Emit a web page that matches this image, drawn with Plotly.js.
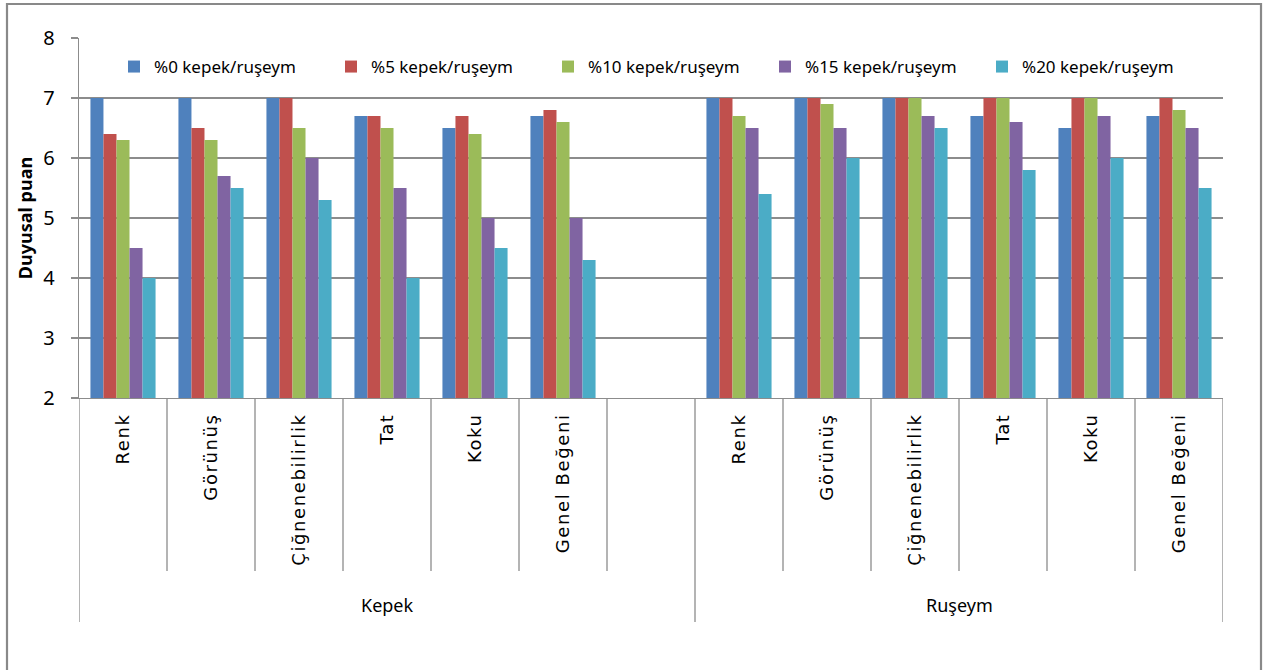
<!DOCTYPE html>
<html>
<head>
<meta charset="utf-8">
<script src="https://cdn.plot.ly/plotly-3.0.1.min.js"></script>
<style>
html,body{margin:0;padding:0;background:#fff;}
#chart{width:1270px;height:670px;}
#chart .xtick text{letter-spacing:1.6px;}
</style>
</head>
<body>
<div id="chart"></div>
<script>
// ---- data ----
const groups = ["Kepek", "Ruşeym"];
const attributes = ["Renk", "Görünüş", "Çiğnenebilirlik", "Tat", "Koku", "Genel Beğeni"];
const seriesNames = ["%0 kepek/ruşeym", "%5 kepek/ruşeym", "%10 kepek/ruşeym", "%15 kepek/ruşeym", "%20 kepek/ruşeym"];
const kepek0  = [7.0, 7.0, 7.0, 6.7, 6.5, 6.7];
const kepek5  = [6.4, 6.5, 7.0, 6.7, 6.7, 6.8];
const kepek10 = [6.3, 6.3, 6.5, 6.5, 6.4, 6.6];
const kepek15 = [4.5, 5.7, 6.0, 5.5, 5.0, 5.0];
const kepek20 = [4.0, 5.5, 5.3, 4.0, 4.5, 4.3];
const ruseym0  = [7.0, 7.0, 7.0, 6.7, 6.5, 6.7];
const ruseym5  = [7.0, 7.0, 7.0, 7.0, 7.0, 7.0];
const ruseym10 = [6.7, 6.9, 7.0, 7.0, 7.0, 6.8];
const ruseym15 = [6.5, 6.5, 6.7, 6.6, 6.7, 6.5];
const ruseym20 = [5.4, 6.0, 6.5, 5.8, 6.0, 5.5];
const yTickVals = [2, 3, 4, 5, 6, 7, 8];
const yAxisTitle = "Duyusal puan";

// ---- styles ----
const colors = ["#4F81BD", "#C0504D", "#9BBB59", "#8064A2", "#4BACC6"];
const W = 1270, H = 670;
const M = {l: 79, r: 47, t: 38, b: 272};
const pw = W - M.l - M.r, ph = H - M.t - M.b;
const px2x = p => (p - M.l) / pw;
const px2y = p => (H - M.b - p) / ph;

// category ids: Kepek group has an extra empty slot at its end
const kepekIds = attributes.map(a => "Kepek|" + a);
const gapId = "Kepek|";
const ruseymIds = attributes.map(a => "Ruşeym|" + a);
const catOrder = kepekIds.concat([gapId], ruseymIds);
const catText = attributes.concat([""], attributes);

const kepekSeries = [kepek0, kepek5, kepek10, kepek15, kepek20];
const ruseymSeries = [ruseym0, ruseym5, ruseym10, ruseym15, ruseym20];

const traces = seriesNames.map((name, i) => ({
  type: "bar",
  name: name,
  x: kepekIds.concat(ruseymIds),
  y: kepekSeries[i].concat(ruseymSeries[i]),
  marker: {color: colors[i], line: {width: 0}},
  hoverinfo: "x+y+name"
}));

const gray = "#8c8c8c";
const shapes = [];
for (let k = 0; k <= catOrder.length; k++) {
  const xb = k - 0.5;
  const isGroup = (k === 0 || k === kepekIds.length + 1 || k === catOrder.length);
  shapes.push({type: "line", xref: "x", yref: "paper", x0: xb, x1: xb,
    y0: 0, y1: px2y(isGroup ? 622 : 571), line: {color: gray, width: 1.3}});
}
shapes.push({type: "rect", xref: "paper", yref: "paper",
  x0: px2x(7), x1: px2x(1261), y0: px2y(680), y1: px2y(4),
  line: {color: "#898989", width: 2.2}, layer: "below"});

const groupFont = {family: "Noto Sans, sans-serif", size: 18, color: "#000"};
const annotations = [
  {xref: "x", yref: "paper", x: (kepekIds.length) / 2, y: px2y(605), text: groups[0],
   showarrow: false, font: groupFont, yanchor: "middle"},
  {xref: "x", yref: "paper", x: kepekIds.length + 1 + (ruseymIds.length - 1) / 2, y: px2y(605), text: groups[1],
   showarrow: false, font: groupFont, yanchor: "middle"}
];

const layout = {
  width: W, height: H,
  margin: M,
  paper_bgcolor: "#fff", plot_bgcolor: "#fff",
  barmode: "group", bargap: 0.26, bargroupgap: 0,
  showlegend: true,
  legend: {orientation: "h", x: px2x(114), y: px2y(67), xanchor: "left", yanchor: "middle",
    entrywidth: 172, entrywidthmode: "pixels", itemwidth: 30,
    font: {family: "Noto Sans, sans-serif", size: 17, color: "#000"}, bgcolor: "rgba(0,0,0,0)"},
  xaxis: {
    type: "category", categoryorder: "array", categoryarray: catOrder,
    range: [-0.5, catOrder.length - 0.5],
    tickmode: "array", tickvals: catOrder, ticktext: catText,
    tickangle: -90, ticks: "", showgrid: false, ticklabelstandoff: 7,
    showline: true, linecolor: gray, linewidth: 1.3,
    tickfont: {family: "DejaVu Sans, sans-serif", size: 18, color: "#000"},
    automargin: false, fixedrange: true
  },
  yaxis: {
    range: [2, 8], tickmode: "array", tickvals: yTickVals,
    ticks: "outside", ticklen: 7, tickcolor: gray, tickwidth: 1.3, ticklabelstandoff: 12,
    showgrid: true, gridcolor: gray, gridwidth: 1.3,
    showline: true, linecolor: gray, linewidth: 1.3, zeroline: false,
    tickfont: {family: "Noto Sans, sans-serif", size: 20, color: "#000"},
    title: {text: "<b>" + yAxisTitle + "</b>", font: {family: "Noto Sans, sans-serif", size: 18, color: "#000"}, standoff: 6},
    automargin: false, fixedrange: true
  },
  shapes: shapes,
  annotations: annotations
};

Plotly.newPlot("chart", traces, layout, {displayModeBar: false, staticPlot: true});
</script>
</body>
</html>
